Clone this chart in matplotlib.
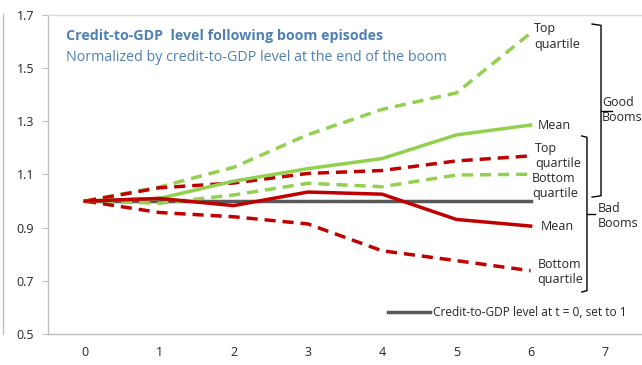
import matplotlib.pyplot as plt
from matplotlib.lines import Line2D

plt.rcParams['font.family'] = ['Open Sans', 'DejaVu Sans']

years = [0, 1, 2, 3, 4, 5, 6]
baseline = [1.0, 1.0, 1.0, 1.0, 1.0, 1.0, 1.0]

# Good booms
good_top = [1.0, 1.053, 1.127, 1.25, 1.345, 1.407, 1.632]
good_mean = [1.0, 1.01, 1.075, 1.122, 1.16, 1.249, 1.286]
good_bottom = [1.0, 0.992, 1.023, 1.067, 1.054, 1.098, 1.101]

# Bad booms
bad_top = [1.0, 1.05, 1.068, 1.104, 1.115, 1.151, 1.17]
bad_mean = [1.0, 1.01, 0.983, 1.034, 1.026, 0.931, 0.906]
bad_bottom = [1.0, 0.957, 0.941, 0.914, 0.813, 0.776, 0.738]

yticks = [0.5, 0.7, 0.9, 1.1, 1.3, 1.5, 1.7]
xticks = [0, 1, 2, 3, 4, 5, 6, 7]

green = '#92d050'
red = '#c00000'
gray = '#595959'
blue = '#4f81b4'
txt = '#262626'

fig = plt.figure(figsize=(6.42, 3.65), dpi=100)
ax = fig.add_axes([48 / 642, 31 / 365, 594 / 642, 319 / 365])

lw = 2.5
dash = (3.2, 2.0)
ax.plot(years, baseline, color=gray, lw=lw, label='Credit-to-GDP level at t = 0, set to 1')
ax.plot(years, good_top, color=green, lw=lw, dashes=dash)
ax.plot(years, bad_top, color=red, lw=lw, dashes=dash)
ax.plot(years, good_bottom, color=green, lw=lw, dashes=dash)
ax.plot(years, bad_bottom, color=red, lw=lw, dashes=dash)
ax.plot(years, good_mean, color=green, lw=lw)
ax.plot(years, bad_mean, color=red, lw=lw)

ax.set_xlim(-0.5, 7.5)
ax.set_ylim(0.5, 1.7)
ax.set_xticks(xticks)
ax.set_yticks(yticks)
ax.set_yticklabels([f'{v:.1f}' for v in yticks])
ax.tick_params(axis='x', length=0, pad=9, labelsize=9, labelcolor=txt)
ax.tick_params(axis='y', length=4, width=0.8, color='#bfbfbf', pad=6, labelsize=9, labelcolor=txt)

for side in ['left', 'bottom']:
    ax.spines[side].set_color('#bfbfbf')
    ax.spines[side].set_linewidth(1.0)
ax.spines['top'].set_color('#d9d9d9')
ax.spines['top'].set_linewidth(1.0)
ax.spines['right'].set_visible(False)

# outer panel edge on the left
fig.add_artist(Line2D([3 / 642, 3 / 642], [31 / 365, 351 / 365], color='#bfbfbf', lw=1.0))

ax.text(0.030, 0.934, 'Credit-to-GDP  level following boom episodes', transform=ax.transAxes,
        color=blue, fontsize=10.3, fontweight='bold', va='center')
ax.text(0.030, 0.866, 'Normalized by credit-to-GDP level at the end of the boom', transform=ax.transAxes,
        color=blue, fontsize=10.3, va='center')

fs = 9
ax.text(6.045, 1.62, 'Top\nquartile', fontsize=fs, color=txt, va='center', linespacing=1.25)
ax.text(6.10, 1.286, 'Mean', fontsize=fs, color=txt, va='center')
ax.text(6.06, 1.17, 'Top\nquartile', fontsize=fs, color=txt, va='center', linespacing=1.25)
ax.text(6.02, 1.057, 'Bottom\nquartile', fontsize=fs, color=txt, va='center', linespacing=1.25)
ax.text(6.13, 0.906, 'Mean', fontsize=fs, color=txt, va='center')
ax.text(6.09, 0.733, 'Bottom\nquartile', fontsize=fs, color=txt, va='center', linespacing=1.25)
ax.text(6.96, 1.343, 'Good\nBooms', fontsize=fs, color=txt, va='center', linespacing=1.25)
ax.text(6.907, 0.944, 'Bad\nBooms', fontsize=fs, color=txt, va='center', linespacing=1.25)

# curly brackets grouping the good and bad booms
def bracket(x, top, bottom, mid, arm, tick):
    ax.plot([x - arm, x, x, x - arm], [top, top - 0.005, bottom + 0.005, bottom],
            color='black', lw=1.0, clip_on=False)
    ax.plot([x, x + tick], [mid, mid], color='black', lw=1.0, clip_on=False)

bracket(6.948, 1.666, 1.015, 1.339, 0.12, 0.15)
bracket(6.759, 1.245, 0.658, 0.951, 0.07, 0.11)

ax.legend(loc='center left', bbox_to_anchor=(0.555, 0.066), frameon=False, fontsize=8.6,
          handlelength=3.5, handletextpad=0.2, labelcolor=txt)

fig.savefig('out.png', dpi=100)
